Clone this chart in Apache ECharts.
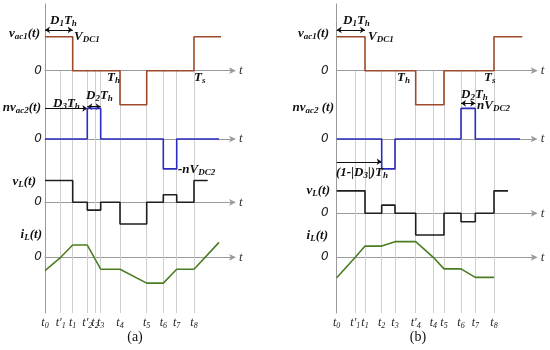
<!DOCTYPE html>
<html><head><meta charset="utf-8">
<script src="https://cdn.jsdelivr.net/npm/echarts@6/dist/echarts.min.js"></script>
<style>html,body{margin:0;padding:0;background:#fff}#c{width:550px;height:350px}</style>
</head><body><div id="c"></div><script>
// ---------- data (time in px-like units from t0, signal in normalized units) ----------
const labelsA = ["t0","t'1","t1","t'2","t2","t3","t4","t5","t6","t7","t8"];
const timesA  = [0, 15.7, 27.7, 42.3, 50, 55.7, 75, 101.7, 118.3, 131.7, 149];
const vac1A_t = [0, 27.7, 75, 101.7, 149, 176];
const vac1A_v = [1, 0, -1, 0, 1, 1];
const nvac2A_t = [0, 42.3, 55.7, 118.3, 131.7, 174];
const nvac2A_v = [0, 0.9, 0, -0.88, 0, 0];
const vLA_t = [0, 27.7, 42.3, 55.7, 75, 101.7, 118.3, 131.7, 149, 162.7];
const vLA_v = [0.64, 0, -0.23, 0, -0.64, 0, 0.22, 0, 0.64, 0.64];
const iLA_t = [0, 15.7, 27.7, 42.3, 55.7, 75, 101.7, 118.3, 131.7, 149, 174];
const iLA_v = [-0.39, 0, 0.36, 0.36, -0.35, -0.35, -0.76, -0.76, -0.35, -0.35, 0.44];

const labelsB = ["t0","t'1","t1","t2","t3","t'4","t4","t5","t6","t7","t8"];
const timesB  = [0, 18.6, 28.3, 45, 58.3, 79, 96.6, 107.3, 124.3, 138.6, 157.3];
const vac1B_t = [0, 28.3, 79, 107.3, 157.3, 185.6];
const vac1B_v = [1, 0, -1, 0, 1, 1];
const nvac2B_t = [0, 45, 58.3, 124.3, 138.6, 183.3];
const nvac2B_v = [0, -0.88, 0, 0.9, 0, 0];
const vLB_t = [0, 28.3, 45, 58.3, 79, 107.3, 124.3, 138.6, 157.3, 171.3];
const vLB_v = [0.66, 0, 0.24, 0, -0.64, 0, -0.25, 0, 0.66, 0.66];
const iLB_t = [0, 18.6, 28.3, 45, 58.3, 79, 96.6, 107.3, 124.3, 138.6, 157.3];
const iLB_v = [-0.6, 0, 0.33, 0.33, 0.46, 0.46, 0, -0.34, -0.34, -0.59, -0.59];

// ---------- styling ----------
const C_VAC1 = '#9c4a2a', C_NV = '#2b2bbf', C_VL = '#1e1e1e', C_IL = '#4b7d23';
const AX = '#9a9a9a', GUIDE = '#cfcfcf';
const SERIF = 'Liberation Serif';
const rich = {
  m: {fontFamily: SERIF, fontStyle: 'italic', fontWeight: 'bold', fontSize: 13, color: '#111', lineHeight: 15},
  s: {fontFamily: SERIF, fontStyle: 'italic', fontWeight: 'bold', fontSize: 9, color: '#111', verticalAlign: 'bottom', padding: [5, 0, 0, 0]},
  ti: {fontFamily: SERIF, fontStyle: 'italic', fontSize: 12, color: '#222', lineHeight: 14},
  ts: {fontFamily: SERIF, fontStyle: 'italic', fontSize: 8, color: '#222', verticalAlign: 'bottom', padding: [5, 0, 0, 0]}
};
function tl(lbl) { // "t'1" -> rich
  const base = lbl.slice(0, lbl.length - 1), sub = lbl.slice(-1);
  return '{ti|' + base + '}{ts|' + sub + '}';
}

const panels = [
  {x0: 45, L: 188, times: timesA, labels: labelsA, vlZero: 202.3, zeroMargin: 3,
   vac1: [vac1A_t, vac1A_v], nv: [nvac2A_t, nvac2A_v], vl: [vLA_t, vLA_v], il: [iLA_t, iLA_v]},
  {x0: 336.7, L: 198, times: timesB, labels: labelsB, vlZero: 213.3, zeroMargin: 8,
   vac1: [vac1B_t, vac1B_v], nv: [nvac2B_t, nvac2B_v], vl: [vLB_t, vLB_v], il: [iLB_t, iLB_v]}
];
const PX = 34; // px per unit
const grid = [], xAxis = [], yAxis = [], series = [];
function zip(t, v) { return t.map((x, i) => [x, v[i]]); }

panels.forEach((p, pi) => {
  // guide grid (vertical gray lines + t labels)
  let gi = grid.length;
  grid.push({left: p.x0, top: 71, width: p.L, height: 242});
  xAxis.push({gridIndex: gi, type: 'value', min: 0, max: p.L,
    axisLine: {show: false}, axisTick: {show: false}, splitLine: {show: false},
    axisLabel: {show: true, customValues: p.times, margin: 3, rich: rich, hideOverlap: false,
      formatter: v => { const i = p.times.findIndex(t => Math.abs(t - v) < 0.01); return i >= 0 ? tl(p.labels[i]) : ''; }}});
  yAxis.push({gridIndex: gi, type: 'value', min: 0, max: 1, show: false});
  series.push({type: 'line', xAxisIndex: gi, yAxisIndex: gi, data: [[0, 0]], showSymbol: false,
    lineStyle: {opacity: 0}, silent: true,
    markLine: {silent: true, symbol: 'none', label: {show: false}, lineStyle: {color: GUIDE, width: 1, type: 'solid'},
      data: p.times.slice(1).map(t => ({xAxis: t}))}});
  // t0 vertical axis
  gi = grid.length;
  grid.push({left: p.x0, top: 4, width: p.L, height: 309});
  xAxis.push({gridIndex: gi, type: 'value', min: 0, max: p.L, show: false});
  yAxis.push({gridIndex: gi, type: 'value', min: 0, max: 1, axisLine: {show: true, lineStyle: {color: AX, width: 1}},
    axisTick: {show: false}, axisLabel: {show: false}, splitLine: {show: false}});
  // signal rows
  const rows = [
    {zero: 70.7, d: p.vac1, color: C_VAC1, step: 'end'},
    {zero: 139, d: p.nv, color: C_NV, step: 'end'},
    {zero: p.vlZero, d: p.vl, color: C_VL, step: 'end'},
    {zero: 257.3, d: p.il, color: C_IL, step: false}
  ];
  rows.forEach((r, ri) => {
    const g = grid.length;
    grid.push({left: p.x0, top: r.zero - 1.5 * PX, width: p.L, height: 3 * PX});
    xAxis.push({gridIndex: g, type: 'value', min: 0, max: p.L,
      axisLine: {show: true, onZero: true, symbol: ['none', 'arrow'], symbolSize: [5, 7], symbolOffset: [0, 3],
        lineStyle: {color: AX, width: 1}},
      axisTick: {show: false}, axisLabel: {show: false}, splitLine: {show: false},
      name: 't', nameLocation: 'end', nameGap: 6,
      nameTextStyle: {fontFamily: SERIF, fontStyle: 'italic', fontSize: 13, color: '#333', verticalAlign: 'middle'}});
    yAxis.push({gridIndex: g, type: 'value', min: -1.5, max: 1.5,
      axisLine: {show: false}, axisTick: {show: false}, splitLine: {show: false},
      axisLabel: {show: true, customValues: [0], formatter: () => '0', margin: p.zeroMargin,
        fontFamily: 'DejaVu Sans', fontStyle: 'italic', fontSize: 12, color: '#222'}});
    const s = {type: 'line', xAxisIndex: g, yAxisIndex: g, data: zip(r.d[0], r.d[1]), step: r.step,
      showSymbol: false, lineStyle: {color: r.color, width: 1.6}, silent: true, z: 5};
    // annotation arrows
    const ml = [];
    if (ri === 0) {
      ml.push({from: [0, 1.2], to: [p.times[2], 1.2], sym: ['arrow', 'arrow']});
    }
    if (ri === 1 && pi === 0) {
      ml.push({from: [0, 0.9], to: [p.times[3], 0.9], sym: ['none', 'arrow']});
      ml.push({from: [p.times[3], 0.95], to: [p.times[5], 0.95], sym: ['arrow', 'arrow']});
    }
    if (ri === 1 && pi === 1) {
      ml.push({from: [0, -0.67], to: [p.times[3], -0.67], sym: ['none', 'arrow']});
      ml.push({from: [p.times[8], 1.05], to: [p.times[9], 1.05], sym: ['arrow', 'arrow']});
    }
    if (ml.length) {
      s.markLine = {silent: true, label: {show: false}, symbolSize: 5, animation: false,
        lineStyle: {color: '#111', width: 1, type: 'solid'},
        data: ml.map(m => [{coord: m.from, symbol: m.sym[0]}, {coord: m.to, symbol: m.sym[1]}])};
    }
    series.push(s);
  });
});

// ---------- text annotations ----------
function txt(x, y, text, align, extra) {
  return Object.assign({type: 'text', x: x, y: y, silent: true, z: 100,
    style: {text: text, rich: rich, align: align || 'left', textAlign: align || 'left',
      verticalAlign: 'middle', textVerticalAlign: 'middle', fill: '#111',
      fontFamily: SERIF, fontSize: 13}}, extra || {});
}
const graphic = [
  // panel (a)
  txt(40, 34, '{m|v}{s|ac1}{m|(t)}', 'right'),
  txt(41, 108, '{m|nv}{s|ac2}{m|(t)}', 'right'),
  txt(36, 182, '{m|v}{s|L}{m|(t)}', 'right'),
  txt(42, 235, '{m|i}{s|L}{m|(t)}', 'right'),
  txt(50, 21, '{m|D}{s|1}{m|T}{s|h}'),
  txt(74, 37, '{m|V}{s|DC1}'),
  txt(107, 78, '{m|T}{s|h}'),
  txt(194, 78, '{m|T}{s|s}'),
  txt(53, 104, '{m|D}{s|3}{m|T}{s|h}'),
  txt(86, 96, '{m|D}{s|2}{m|T}{s|h}'),
  txt(178, 170, '{m|-nV}{s|DC2}'),
  // panel (b)
  txt(329, 34, '{m|v}{s|ac1}{m|(t)}', 'right'),
  txt(334, 108, '{m|nv}{s|ac2}{m| (t)}', 'right'),
  txt(330, 191, '{m|v}{s|L}{m|(t)}', 'right'),
  txt(328, 236, '{m|i}{s|L}{m|(t)}', 'right'),
  txt(343, 21, '{m|D}{s|1}{m|T}{s|h}'),
  txt(368, 37, '{m|V}{s|DC1}'),
  txt(397, 78, '{m|T}{s|h}'),
  txt(484, 78, '{m|T}{s|s}'),
  txt(336, 173, '{m|(1-|D}{s|3}{m||)T}{s|h}'),
  txt(461, 95, '{m|D}{s|2}{m|T}{s|h}'),
  txt(477, 106, '{m|nV}{s|DC2}'),
  // captions
  {type: 'text', x: 135, y: 337, silent: true, style: {text: '(a)', align: 'center', textAlign: 'center', verticalAlign: 'middle', textVerticalAlign: 'middle', fill: '#111', fontFamily: SERIF, fontSize: 14}},
  {type: 'text', x: 418, y: 337, silent: true, style: {text: '(b)', align: 'center', textAlign: 'center', verticalAlign: 'middle', textVerticalAlign: 'middle', fill: '#111', fontFamily: SERIF, fontSize: 14}}
];

const chart = echarts.init(document.getElementById('c'), null, {renderer: 'canvas'});
chart.setOption({animation: false, backgroundColor: '#fff', grid, xAxis, yAxis, series, graphic});
</script></body></html>
